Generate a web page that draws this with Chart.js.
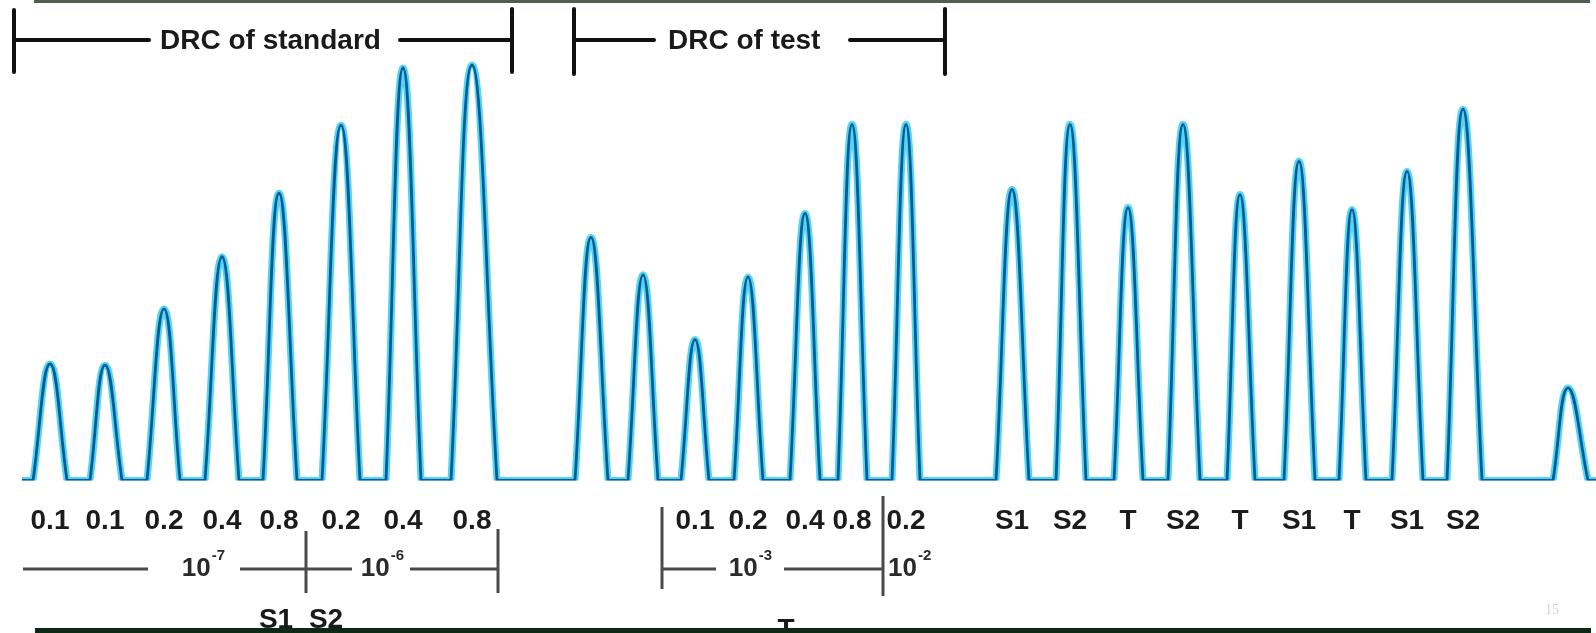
<!DOCTYPE html>
<html>
<head>
<meta charset="utf-8">
<script src="https://cdn.jsdelivr.net/npm/chart.js@4.4.1/dist/chart.umd.min.js"></script>
<style>
  html, body { margin: 0; padding: 0; background: #fff; }
  #wrap { position: relative; width: 1596px; height: 633px; }
</style>
</head>
<body>
<div id="wrap"><canvas id="trace"></canvas></div>
<script>
// Kymograph trace: each contraction is read as left foot, apex and right foot (time units)
const traceStart = 2.2;
const traceEnd = 159.6;
const peakStart = [3.3, 9.0, 14.7, 20.5, 26.3, 32.2, 38.6, 45.1, 57.5, 62.8, 68.1, 73.4, 79.0, 83.8, 89.2, 99.6, 105.6, 111.4, 116.8, 122.7, 128.4, 133.9, 139.2, 144.7, 155.3];
const peakTop = [5.0, 10.5, 16.4, 22.2, 27.9, 34.1, 40.3, 47.2, 59.1, 64.3, 69.5, 74.8, 80.5, 85.2, 90.6, 101.2, 107.0, 112.8, 118.3, 124.0, 129.9, 135.2, 140.7, 146.3, 156.8];
const peakEnd = [6.7, 12.2, 18.0, 23.9, 29.7, 36.0, 42.1, 49.7, 60.8, 65.8, 70.9, 76.3, 82.0, 86.7, 92.0, 102.9, 108.6, 114.3, 120.0, 125.5, 131.5, 136.6, 142.3, 148.2, 158.8];
// contraction heights (% of max)
const peakHeight = [27.7, 27.4, 40.8, 53.2, 68.3, 84.5, 98.1, 98.8, 57.8, 48.9, 33.5, 48.4, 63.5, 84.7, 84.7, 69.2, 84.7, 64.9, 84.7, 68.0, 75.9, 64.4, 73.5, 88.3, 22.0];
// dose / sample under each contraction
const peakLabels = ['0.1', '0.1', '0.2', '0.4', '0.8', '0.2', '0.4', '0.8', '', '', '0.1', '0.2', '0.4', '0.8', '0.2',
                    'S1', 'S2', 'T', 'S2', 'T', 'S1', 'T', 'S1', 'S2', ''];

// feet are listed twice so the spline keeps a corner where the pen leaves the baseline
const tracePoints = [{ x: traceStart, y: 0 }];
peakTop.forEach((t, i) => {
    tracePoints.push({ x: peakStart[i], y: 0 }, { x: peakStart[i], y: 0 });
    tracePoints.push({ x: t, y: peakHeight[i] });
    tracePoints.push({ x: peakEnd[i], y: 0 }, { x: peakEnd[i], y: 0 });
});
tracePoints.push({ x: traceEnd, y: 0 });

const FONT = 'Liberation Sans, Arial, Helvetica, sans-serif';

// draws "10" with a superscript exponent, centred (or left aligned) at cx
function power(ctx, cx, y, exp, align) {
    ctx.font = 'bold 26px ' + FONT;
    const wBase = ctx.measureText('10').width;
    ctx.font = 'bold 15px ' + FONT;
    const wExp = ctx.measureText(exp).width;
    const left = align === 'left' ? cx : cx - (wBase + wExp) / 2;
    ctx.textAlign = 'left';
    ctx.textBaseline = 'middle';
    ctx.font = 'bold 26px ' + FONT;
    ctx.fillText('10', left, y);
    ctx.font = 'bold 15px ' + FONT;
    ctx.fillText(exp, left + wBase + 1, y - 13);
}

function hline(ctx, x0, x1, y) {
    ctx.beginPath(); ctx.moveTo(x0, y); ctx.lineTo(x1, y); ctx.stroke();
}
function vline(ctx, x, y0, y1) {
    ctx.beginPath(); ctx.moveTo(x, y0); ctx.lineTo(x, y1); ctx.stroke();
}

const decor = {
    id: 'decor',
    afterDraw(chart) {
        const ctx = chart.ctx;
        const x = v => chart.scales.x.getPixelForValue(v);
        ctx.save();
        ctx.lineCap = 'round';

        // DRC brackets on top
        ctx.strokeStyle = '#111';
        ctx.lineWidth = 4;
        vline(ctx, x(1.4), 10, 72);
        hline(ctx, x(1.4), x(14.9), 40);
        hline(ctx, x(40.0), x(51.2), 40);
        vline(ctx, x(51.2), 9, 72);
        vline(ctx, x(57.4), 9, 74);
        hline(ctx, x(57.4), x(65.4), 40);
        hline(ctx, x(85.0), x(94.5), 40);
        vline(ctx, x(94.5), 9, 74);
        ctx.fillStyle = '#1a1a1a';
        ctx.font = 'bold 28px ' + FONT;
        ctx.textAlign = 'left';
        ctx.textBaseline = 'middle';
        ctx.fillText('DRC of standard', x(16.0), 41);
        ctx.fillText('DRC of test', x(66.8), 41);

        // concentration brackets under the dose labels
        ctx.strokeStyle = '#4a4a4a';
        ctx.lineWidth = 3;
        ctx.lineCap = 'butt';
        hline(ctx, x(2.3), x(14.8), 569);
        hline(ctx, x(24.0), x(35.2), 569);
        vline(ctx, x(30.6), 531, 593);
        hline(ctx, x(41.0), x(49.8), 569);
        vline(ctx, x(49.8), 529, 593);
        vline(ctx, x(66.2), 507, 589);
        hline(ctx, x(66.2), x(71.6), 569);
        hline(ctx, x(78.4), x(88.3), 569);
        vline(ctx, x(88.3), 496, 596);
        ctx.fillStyle = '#2a2a2a';
        power(ctx, x(20.3), 569, '-7');
        power(ctx, x(38.2), 569, '-6');
        power(ctx, x(75.0), 569, '-3');
        power(ctx, x(88.8), 569, '-2', 'left');

        // sample names at the bottom
        ctx.fillStyle = '#1a1a1a';
        ctx.font = 'bold 28px ' + FONT;
        ctx.textAlign = 'center';
        ctx.fillText('S1', x(27.6), 620);
        ctx.fillText('S2', x(32.6), 620);
        ctx.fillText('T', x(78.6), 630);

        // slide frame
        ctx.fillStyle = '#4f5f50';
        ctx.fillRect(34, 0, 1556, 3);
        ctx.fillStyle = '#0d2817';
        ctx.fillRect(35, 628, 1556, 5);

        ctx.fillStyle = '#d4d4d4';
        ctx.font = '14px Liberation Serif, serif';
        ctx.fillText('15', 1552, 610);
        ctx.restore();
    }
};

new Chart(document.getElementById('trace'), {
    type: 'line',
    data: {
        datasets: [{
            data: tracePoints,
            borderColor: '#0f5a94',
            borderWidth: 2.8
        }, {
            data: tracePoints,
            borderColor: 'rgba(20, 200, 240, 0.75)',
            borderWidth: 7
        }]
    },
    options: {
        responsive: true,
        maintainAspectRatio: false,
        animation: false,
        layout: { padding: { top: 60, bottom: 71, left: 0, right: 0 } },
        plugins: {
            legend: { display: false },
            tooltip: { enabled: false }
        },
        elements: {
            point: { radius: 0 },
            line: { tension: 0.45, capBezierPoints: true, borderJoinStyle: 'round' }
        },
        scales: {
            x: {
                type: 'linear',
                min: 0,
                max: 159.6,
                grid: { display: false, drawTicks: false },
                border: { display: false },
                afterBuildTicks: scale => { scale.ticks = peakTop.map(v => ({ value: v })); },
                ticks: {
                    autoSkip: false,
                    maxRotation: 0,
                    padding: 24,
                    color: '#1c1c1c',
                    font: { family: FONT, weight: 'bold', size: 28 },
                    callback: (value, index) => peakLabels[index]
                }
            },
            y: { display: false, min: 0, max: 100 }
        }
    },
    plugins: [decor]
});
</script>
</body>
</html>
